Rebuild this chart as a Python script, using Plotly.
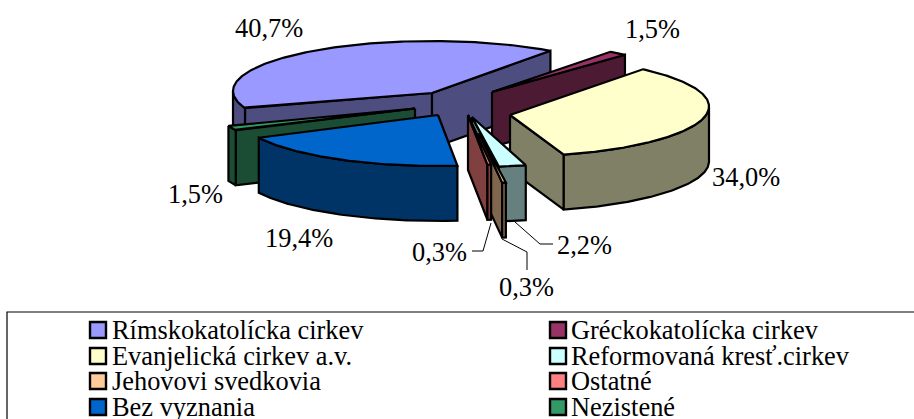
import math
import plotly.graph_objects as go

# ---- data ----
categories = ["Rímskokatolícka cirkev", "Gréckokatolícka cirkev", "Evanjelická cirkev a.v.",
              "Reformovaná kresť.cirkev", "Jehovovi svedkovia", "Ostatné", "Bez vyznania", "Nezistené"]
values = [40.7, 1.5, 34.0, 2.2, 0.3, 0.3, 19.4, 1.5]
top_colors = ["#9999FF", "#993366", "#FFFFCC", "#CCFFFF", "#FFCC99", "#FF8080", "#0066CC", "#339966"]
wall_colors = ["#4D4D80", "#4D1A33", "#808066", "#668080", "#80664D", "#804040", "#003366", "#1A4D33"]

# ---- pie geometry (style) ----
START_ANGLE = -110.0
CX, CY = 458.0, 105.0
RX, RY, DEPTH = 199.0, 50.0, 55.0
# explosion of each slice from the pie centre, and shift of the drawn apex
explode_dx = [-26, 34, 52, 14, 21, 10, -20, -43]
explode_dy = [-14, -13, 1.5, 12, 28, 10, 11, 3.5]
apex_dy = [2, 0, 8.5, 0, 0, 0, -1, 0]
draw_order = [0, 1, 2, 7, 3, 4, 5, 6]

label_texts = ["40,7%", "1,5%", "34,0%", "2,2%", "0,3%", "0,3%", "19,4%", "1,5%"]
label_x = [269, 652, 746, 584, 526, 439, 299, 195]
label_y = [28, 29, 177, 245, 287, 252, 238, 194]
leader_x = {3: [515, 540, 553], 4: [502, 527, 527], 5: [491, 483, 472]}
leader_y = {3: [222, 244, 244], 4: [239, 252, 270], 5: [223, 251, 251]}

legend_x = [98, 98, 98, 98, 558, 558, 558, 558]
legend_text_gap = [12, 12, 12, 12, 11, 11, 11, 11]
legend_order = [0, 2, 4, 6, 1, 3, 5, 7]
legend_y = [330, 356, 381, 407, 330, 356, 381, 407]
SERIF = "Liberation Serif"
FONT_SIZE = 26.4

fig = go.Figure()


def poly(xs, ys, fill):
    fig.add_trace(go.Scatter(x=xs, y=ys, mode="lines", fill="toself", fillcolor=fill,
                             line=dict(color="#000000", width=2.2), hoverinfo="skip", showlegend=False))


def pt(cx, cy, deg):
    a = math.radians(deg)
    return cx + RX * math.sin(a), cy - RY * math.cos(a)


def arc(cx, cy, a0, a1):
    n = max(2, int(abs(a1 - a0) * 1.5) + 2)
    return [pt(cx, cy, a0 + (a1 - a0) * i / (n - 1)) for i in range(n)]


# cumulative angles
angles = []
a = START_ANGLE
for v in values:
    angles.append((a, a + v * 3.6))
    a += v * 3.6

for i in draw_order:
    a0, a1 = angles[i]
    cx, cy = CX + explode_dx[i], CY + explode_dy[i]
    ax, ay = cx, cy + apex_dy[i]
    # cut faces
    for edge, sign in ((a0, -1), (a1, 1)):
        if sign * math.sin(math.radians(edge)) > 0:
            ex, ey = pt(cx, cy, edge)
            poly([ax, ex, ex, ax, ax], [ay, ey, ey + DEPTH, ay + DEPTH, ay], wall_colors[i])
    # outer wall: the front half of the rim only
    for shift in (0, -360):
        lo, hi = max(a0, 90 + shift), min(a1, 270 + shift)
        if hi > lo:
            pts = arc(cx, cy, lo, hi)
            xs = [p[0] for p in pts] + [p[0] for p in reversed(pts)] + [pts[0][0]]
            ys = [p[1] for p in pts] + [p[1] + DEPTH for p in reversed(pts)] + [pts[0][1]]
            poly(xs, ys, wall_colors[i])
    # top
    pts = arc(cx, cy, a0, a1)
    poly([ax] + [p[0] for p in pts] + [ax], [ay] + [p[1] for p in pts] + [ay], top_colors[i])

# leader lines
for k in leader_x:
    fig.add_trace(go.Scatter(x=leader_x[k], y=leader_y[k], mode="lines",
                             line=dict(color="#000000", width=1), hoverinfo="skip", showlegend=False))

annotations = []
for t, x, y in zip(label_texts, label_x, label_y):
    annotations.append(dict(x=x, y=y, text=t, showarrow=False, xanchor="center", yanchor="middle",
                            font=dict(family=SERIF, size=FONT_SIZE, color="#000000")))

# legend
for pos, i in enumerate(legend_order):
    lx, ly = legend_x[pos], legend_y[pos]
    fig.add_trace(go.Scatter(x=[lx], y=[ly], mode="markers", hoverinfo="skip", showlegend=False,
                             marker=dict(symbol="square", size=16, color=top_colors[i],
                                         line=dict(color="#000000", width=2.4))))
    annotations.append(dict(x=lx + legend_text_gap[pos], y=ly, text=categories[i], showarrow=False,
                            xanchor="left", yanchor="middle",
                            font=dict(family=SERIF, size=FONT_SIZE, color="#000000")))

fig.update_layout(
    width=914, height=419, margin=dict(l=0, r=0, t=0, b=0), autosize=False,
    paper_bgcolor="#FFFFFF", plot_bgcolor="#FFFFFF", showlegend=False,
    xaxis=dict(range=[0, 914], visible=False, fixedrange=True),
    yaxis=dict(range=[419, 0], visible=False, fixedrange=True),
    annotations=annotations,
    shapes=[dict(type="rect", xref="x", yref="y", x0=7, y0=312, x1=930, y1=440,
                 line=dict(color="#000000", width=1.2), fillcolor="rgba(0,0,0,0)", layer="below")],
)

fig.write_html("out.html", config={"displayModeBar": False},
               post_script="document.body.style.margin='0';document.body.style.overflow='hidden';")
